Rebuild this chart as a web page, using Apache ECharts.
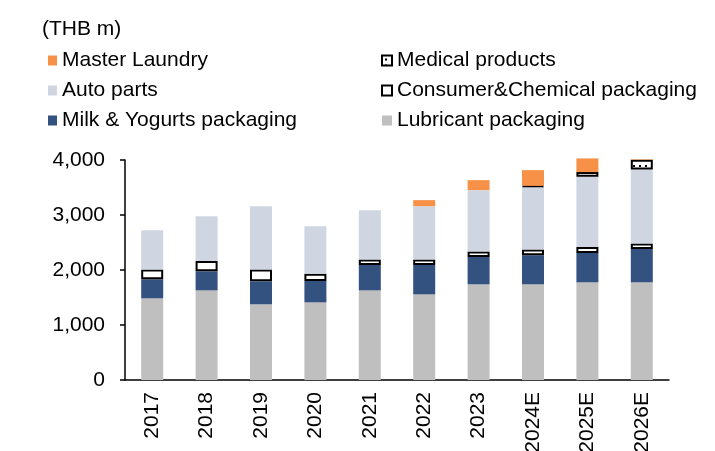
<!DOCTYPE html>
<html>
<head>
<meta charset="utf-8">
<script src="https://cdn.jsdelivr.net/npm/echarts@6/dist/echarts.min.js"></script>
<style>
  html, body { margin: 0; padding: 0; background: #fff; }
  #main { width: 715px; height: 451px; }
</style>
</head>
<body>
<div id="main"></div>
<script>
// data (THB m)
var years = ['2017', '2018', '2019', '2020', '2021', '2022', '2023', '2024E', '2025E', '2026E'];
var lubricant = [1485, 1630, 1375, 1412, 1630, 1557, 1740, 1740, 1776, 1776];
var milk = [346, 346, 419, 388, 461, 534, 497, 528, 534, 607];
var consumer = [176, 188, 213, 134, 98, 98, 98, 104, 109, 98];
var autoParts = [716, 814, 1153, 862, 898, 971, 1117, 1140, 1275, 1348];
var medical = [null, null, null, null, null, null, null, 18, 86, 175];
var laundry = [null, null, null, null, null, 110, 182, 286, 249, 10];
var yTicks = [0, 1000, 2000, 3000, 4000];

var font = '"Liberation Sans", Arial, sans-serif';

// dotted fill for medical products
var dotCanvas = document.createElement('canvas');
dotCanvas.width = 6;
dotCanvas.height = 6;
var dctx = dotCanvas.getContext('2d');
dctx.fillStyle = '#fff';
dctx.fillRect(0, 0, 6, 6);
dctx.fillStyle = '#000';
dctx.fillRect(3, 3, 2, 2);

var myChart = echarts.init(document.getElementById('main'));

var legendText = { fontFamily: font, fontSize: 21, color: '#000', lineHeight: 20 };

var option = {
    animation: false,
    title: {
        text: '(THB m)',
        left: 42,
        top: 19,
        padding: 0,
        textStyle: { fontFamily: font, fontSize: 21, fontWeight: 'normal', color: '#000' }
    },
    legend: [
        {
            orient: 'vertical',
            left: 48,
            top: 50,
            padding: 0,
            icon: 'rect',
            itemWidth: 9,
            itemHeight: 10,
            itemGap: 9,
            selectedMode: false,
            textStyle: legendText,
            data: ['Master Laundry', 'Auto parts', 'Milk & Yogurts packaging']
        },
        {
            orient: 'vertical',
            left: 381,
            top: 50,
            padding: 0,
            icon: 'rect',
            itemWidth: 10,
            itemHeight: 10,
            itemGap: 9,
            selectedMode: false,
            textStyle: legendText,
            data: ['Medical products', 'Consumer&Chemical packaging', 'Lubricant packaging']
        }
    ],
    grid: {
        left: 125,
        right: 46,
        top: 160,
        bottom: 71,
        outerBoundsMode: 'none'
    },
    xAxis: {
        type: 'category',
        data: years,
        axisLine: { lineStyle: { color: '#000', width: 1.5 } },
        axisTick: { interval: 0, length: 6, lineStyle: { color: '#000', width: 1.5 } },
        axisLabel: {
            rotate: 90,
            interval: 0,
            margin: 12,
            color: '#000',
            fontFamily: font,
            fontSize: 21
        }
    },
    yAxis: {
        type: 'value',
        min: yTicks[0],
        max: yTicks[yTicks.length - 1],
        interval: 1000,
        splitLine: { show: false },
        axisLine: { show: true, lineStyle: { color: '#000', width: 1.5 } },
        axisTick: { show: true, length: 5, lineStyle: { color: '#000', width: 1.5 } },
        axisLabel: {
            margin: 20,
            color: '#000',
            fontFamily: font,
            fontSize: 21,
            formatter: function (v) {
                return v.toLocaleString('en-US');
            }
        }
    },
    series: [
        {
            name: 'Lubricant packaging',
            type: 'bar',
            stack: 'total',
            barWidth: 22,
            itemStyle: { color: '#BFBFBF' },
            data: lubricant
        },
        {
            name: 'Milk & Yogurts packaging',
            type: 'bar',
            stack: 'total',
            barWidth: 22,
            itemStyle: { color: '#34527F' },
            data: milk
        },
        {
            name: 'Consumer&Chemical packaging',
            type: 'bar',
            stack: 'total',
            barWidth: 22,
            itemStyle: { color: '#fff', borderColor: '#000', borderWidth: 2 },
            data: consumer
        },
        {
            name: 'Auto parts',
            type: 'bar',
            stack: 'total',
            barWidth: 22,
            itemStyle: { color: '#CFD6E2' },
            data: autoParts
        },
        {
            name: 'Medical products',
            type: 'bar',
            stack: 'total',
            barWidth: 22,
            itemStyle: {
                color: { image: dotCanvas, repeat: 'repeat' },
                borderColor: '#000',
                borderWidth: 2
            },
            data: medical
        },
        {
            name: 'Master Laundry',
            type: 'bar',
            stack: 'total',
            barWidth: 22,
            clip: false,
            itemStyle: { color: '#F79148' },
            data: laundry
        }
    ]
};
myChart.setOption(option);
</script>
</body>
</html>
